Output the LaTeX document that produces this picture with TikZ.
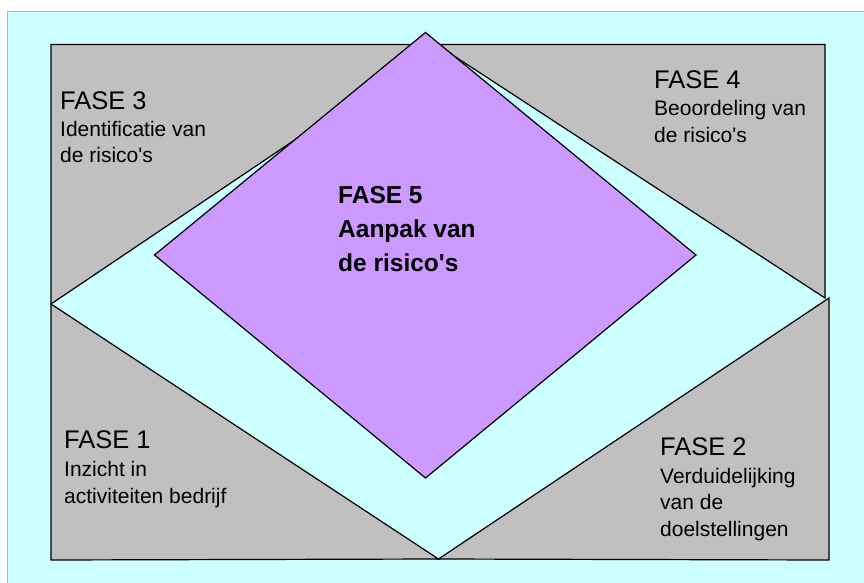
\documentclass[tikz,border=0pt]{standalone}
\usepackage{fontspec}
\setmainfont{Liberation Sans}
\definecolor{achtergrond}{HTML}{CCFFFF}
\definecolor{grijs}{HTML}{C0C0C0}
\definecolor{paars}{HTML}{CC99FF}
\tikzset{
  vlak/.style={fill=grijs,draw=black,line width=1.2pt,line join=miter},
  fase/.style={anchor=base west,inner sep=0pt,font=\fontsize{25.5}{30}\selectfont},
  uitleg/.style={anchor=base west,inner sep=0pt,align=left,font=\fontsize{21}{26.5}\selectfont},
  aanpak/.style={anchor=base west,inner sep=0pt,align=left,font=\bfseries\fontsize{24.5}{34}\selectfont}
}
\newcommand\apos{\textquotesingle}
\begin{document}
\begin{tikzpicture}[x=1pt,y=-1pt]
        \useasboundingbox (0,0) rectangle (864,583);
        % achtergrond
        \fill[achtergrond] (7,11) rectangle (864,583);
        \draw[paars,line width=0.8pt] (7,583) -- (7,11) -- (864,11);
        % hoekpunten
        \coordinate (LB) at (51,44.5);
        \coordinate (MB) at (436.5,44.5);
        \coordinate (RB) at (825,44.5);
        \coordinate (LM) at (51,304);
        \coordinate (RM) at (825,298);
        \coordinate (RM2) at (829,298);
        \coordinate (LO) at (51,560);
        \coordinate (MO) at (438.5,559);
        \coordinate (RO) at (829,560);
        \coordinate (D1) at (425.5,32.5);
        \coordinate (D2) at (154.5,255);
        \coordinate (D3) at (425.5,478);
        \coordinate (D4) at (696,255);
        % vier driehoeken
        \draw[vlak] (LB) -- (MB) -- (LM) -- cycle;
        \draw[vlak] (MB) -- (RB) -- (RM) -- cycle;
        \draw[vlak] (LM) -- (LO) -- (MO) -- cycle;
        \draw[vlak] (MO) -- (RO) -- (RM2) -- cycle;
        % ruit
        \draw[vlak,fill=paars] (D1) -- (D2) -- (D3) -- (D4) -- cycle;
        % teksten (anker op de basislijn van de laatste regel)
        \node[fase] (f3) at (60,109.3) {FASE 3};
        \node[uitleg] (u3) at (60,162.7) {Identificatie van\\de risico\apos s};
        \node[fase] (f4) at (654,88.3) {FASE 4};
        \node[uitleg] (u4) at (654,142.5) {Beoordeling van\\de risico\apos s};
        \node[fase] (f1) at (64,448) {FASE 1};
        \node[uitleg] (u1) at (64,503) {Inzicht in\\activiteiten bedrijf};
        \node[fase] (f2) at (660,455.3) {FASE 2};
        \node[uitleg] (u2) at (660,536.3) {Verduidelijking\\van de\\doelstellingen};
        \node[aanpak] (f5) at (338,271) {FASE 5\\Aanpak van\\de risico\apos s};
    \end{tikzpicture}
\end{document}
